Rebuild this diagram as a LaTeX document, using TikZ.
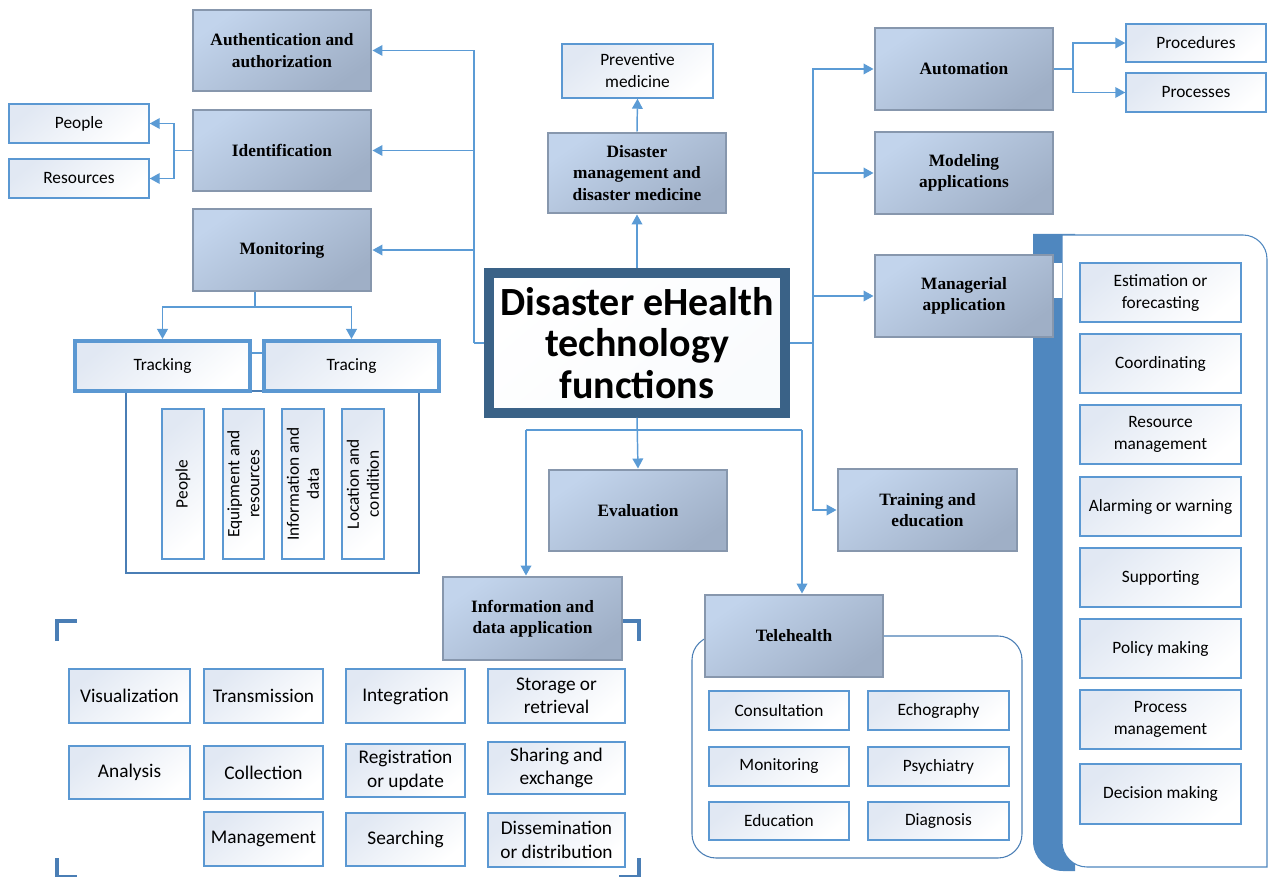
\documentclass[tikz,border=0pt]{standalone}
\usepackage{fontspec}
\setmainfont{Carlito}
\newfontfamily\serifb{Liberation Serif}
\usetikzlibrary{arrows.meta,calc}
\definecolor{conn}{HTML}{5B9BD5}
\definecolor{dtl}{HTML}{C2D4EC}
\definecolor{dbr}{HTML}{9FAFC6}
\definecolor{dedge}{HTML}{8797AD}
\definecolor{wedge}{HTML}{5B98D2}
\definecolor{wtl}{HTML}{E1E8F3}
\definecolor{coreedge}{HTML}{3A6287}
\definecolor{panelblue}{HTML}{4F87BF}
\definecolor{brk}{HTML}{4A7EB5}
\newcommand\mkbox[7]{\node[#1, minimum width={(#5-#3)*0.75pt}, minimum height={(#6-#4)*0.75pt}] (#2) at ({(#3+#5)/2},{(#4+#6)/2}) {#7};}
\begin{document}
\begin{tikzpicture}[x=0.75pt,y=-0.75pt,
  darkbox/.style={draw=dedge, line width=2.2pt, top color=dtl, bottom color=dbr, shading angle=35, align=center, inner sep=1pt, font=\serifb\bfseries\fontsize{13}{16}\selectfont},
  wbox/.style={draw=wedge, line width=1.1pt, top color=wtl, bottom color=white, shading angle=40, align=center, inner sep=1pt, font=\fontsize{13}{16.5}\selectfont},
  gbox/.style={wbox, font=\fontsize{14.5}{17.5}\selectfont},
  thickbox/.style={wbox, line width=3pt},
  corebox/.style={draw=coreedge, line width=6.8pt, top color=white, bottom color=white!90!dtl, shading angle=40, align=center, inner sep=1pt, font=\bfseries\fontsize{30}{31}\selectfont},
  conn/.style={draw=conn, line width=1.1pt},
  arr/.style={conn, -{Triangle[length=7.5pt,width=8pt]}},
  rtext/.style={rotate=90, align=center, font=\fontsize{13}{15}\selectfont},
  brack/.style={draw=brk, line width=3.6pt}
]
\useasboundingbox (0,0) rectangle (1268,877);

% right panel
\fill[panelblue] (1033,234) -- (1075,234) -- (1075,871) -- (1063,871) arc[start angle=90,end angle=180,radius=30] -- cycle;
\filldraw[fill=white, draw=panelblue, line width=0.8pt] (1062,235) -- (1243,235) arc[start angle=-90,end angle=0,radius=24] -- (1267,867) -- (1087,867) arc[start angle=90,end angle=180,radius=25] -- cycle;
\fill[white] (1053,263) rectangle (1062,298);

% telehealth container
\draw[draw=brk, line width=0.8pt, fill=white, rounded corners=18] (692,636) rectangle (1022,858);

% tracking container
\draw[draw=brk, line width=0.8pt, fill=white] (126,391) rectangle (419,573);

% brackets
\draw[brack] (57,641) -- (57,621) -- (77,621);
\draw[brack] (619,621) -- (639,621) -- (639,641);
\draw[brack] (57,858) -- (57,877) -- (77,877);
\draw[brack] (639,858) -- (639,877) -- (619,877);

% core
\mkbox{corebox}{core}{489}{273}{785}{413}{Disaster eHealth\\technology\\functions}

% dark boxes
\mkbox{darkbox}{auth}{193}{10}{371}{91}{Authentication and\\authorization}
\mkbox{darkbox}{ident}{193}{110}{371}{191}{Identification}
\mkbox{darkbox}{mon}{193}{209}{371}{291}{Monitoring}
\mkbox{darkbox}{dmm}{548}{133}{726}{213}{Disaster\\management and\\disaster medicine}
\mkbox{darkbox}{auto}{875}{28}{1053}{110}{Automation}
\mkbox{darkbox}{model}{875}{132}{1053}{214}{Modeling\\applications}
\mkbox{darkbox}{manag}{875}{255}{1053}{337}{Managerial\\application}
\mkbox{darkbox}{eval}{549}{470}{727}{551}{Evaluation}
\mkbox{darkbox}{train}{838}{469}{1017}{551}{Training and\\education}
\mkbox{darkbox}{info}{443}{577}{622}{660}{Information and\\data application}
\mkbox{darkbox}{tele}{705}{595}{883}{677}{Telehealth}

% small white boxes
\mkbox{wbox}{peopleL}{9}{104}{149}{143}{People}
\mkbox{wbox}{resL}{9}{159}{149}{198}{Resources}
\mkbox{wbox}{prev}{562}{44}{713}{98}{Preventive\\medicine}
\mkbox{wbox}{procd}{1126}{24}{1266}{62}{Procedures}
\mkbox{wbox}{procs}{1126}{73}{1266}{112}{Processes}

% tracking / tracing
\mkbox{thickbox}{track}{75}{341}{250}{391}{Tracking}
\mkbox{thickbox}{trace}{264}{341}{439}{391}{Tracing}
\mkbox{wbox}{vp}{162}{409}{204}{559}{}
\mkbox{wbox}{veq}{223}{409}{264}{559}{}
\mkbox{wbox}{vin}{282}{409}{324}{559}{}
\mkbox{wbox}{vlo}{342}{409}{384}{559}{}
\node[rtext] (vpt) at (vp) {People};
\node[rtext] (veqt) at (veq) {Equipment and\\resources};
\node[rtext] (vint) at (vin) {Information and\\data};
\node[rtext] (vlot) at (vlo) {Location and\\condition};

% managerial items
\mkbox{wbox}{m1}{1080}{263}{1241}{322}{Estimation or\\forecasting}
\mkbox{wbox}{m2}{1080}{334}{1241}{393}{Coordinating}
\mkbox{wbox}{m3}{1080}{405}{1241}{464}{Resource\\management}
\mkbox{wbox}{m4}{1080}{477}{1241}{536}{Alarming or warning}
\mkbox{wbox}{m5}{1080}{548}{1241}{607}{Supporting}
\mkbox{wbox}{m6}{1080}{619}{1241}{678}{Policy making}
\mkbox{wbox}{m7}{1080}{690}{1241}{749}{Process\\management}
\mkbox{wbox}{m8}{1080}{764}{1241}{824}{Decision making}

% information grid
\mkbox{gbox}{vis}{69}{669}{190}{723}{Visualization}
\mkbox{gbox}{trans}{204}{669}{323}{723}{Transmission}
\mkbox{gbox}{integ}{346}{669}{465}{723}{Integration}
\mkbox{gbox}{stor}{488}{669}{625}{723}{Storage or\\retrieval}
\mkbox{gbox}{anal}{69}{746}{190}{799}{Analysis}
\mkbox{gbox}{coll}{204}{746}{323}{799}{Collection}
\mkbox{gbox}{reg}{346}{744}{465}{797}{Registration\\or update}
\mkbox{gbox}{shar}{488}{742}{625}{794}{Sharing and\\exchange}
\mkbox{gbox}{mgmt}{204}{812}{323}{866}{Management}
\mkbox{gbox}{srch}{346}{813}{465}{866}{Searching}
\mkbox{gbox}{diss}{488}{813}{625}{867}{Dissemination\\or distribution}

% telehealth items
\mkbox{wbox}{cons}{709}{691}{849}{730}{Consultation}
\mkbox{wbox}{echo}{868}{691}{1009}{730}{Echography}
\mkbox{wbox}{moni}{709}{747}{849}{786}{Monitoring}
\mkbox{wbox}{psych}{868}{747}{1009}{786}{Psychiatry}
\mkbox{wbox}{edu}{709}{802}{849}{840}{Education}
\mkbox{wbox}{diag}{868}{802}{1009}{840}{Diagnosis}

% connectors
\coordinate (jl) at (474,343);
\draw[conn] (core.west) -- (jl);
\draw[arr] (jl) |- (auth);
\draw[arr] (jl) |- (ident);
\draw[arr] (jl) |- (mon);

\coordinate (jr) at (813,343);
\draw[conn] (core.east) -- (jr);
\draw[arr] (jr) |- (auto);
\draw[arr] (jr) |- (model);
\draw[arr] (jr) |- (manag);
\draw[arr] (jr) |- (train);

\draw[arr] (core.north) -- (dmm.south);
\draw[arr] (dmm.north) -- (prev.south);
\draw[arr] (core.south) -- (eval.north);

\coordinate (hl) at (526,430);
\coordinate (hr) at (802,430);
\draw[conn] (hl) -- (hr);
\draw[arr] (hl) -- (hl |- info.north);
\draw[arr] (hr) -- (hr |- tele.north);

\coordinate (ij) at (174,150.5);
\draw[conn] (ident.west) -- (ij);
\draw[arr] (ij) |- (peopleL);
\draw[arr] (ij) |- (resL);

\coordinate (aj) at (1073,69);
\draw[conn] (auto.east) -- (aj);
\draw[arr] (aj) |- (procd);
\draw[arr] (aj) |- (procs);

\coordinate (mj) at (255,307);
\draw[conn] (mon.south -| mj) -- (mj);
\draw[arr] (mj) -| (track);
\draw[arr] (mj) -| (trace);
\draw[conn] ([yshift=9.75pt]track.east) -- ([yshift=9.75pt]trace.west);
\end{tikzpicture}
\end{document}
